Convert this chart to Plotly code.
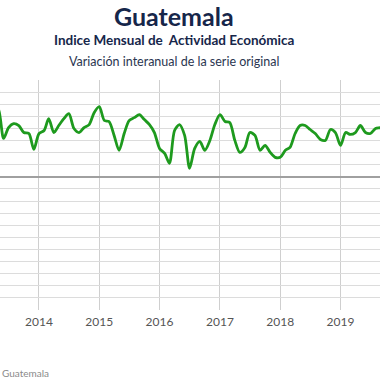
import plotly.graph_objects as go
import pandas as pd

# Monthly year-on-year variation (%), Apr 2013 .. Oct 2019
start_month = "2013-04-01"
values = [5.96, 5.55, 3.17, 4.07, 4.40, 4.24, 3.66, 3.58, 2.27,
          3.58, 3.83, 4.81, 3.66, 4.24, 4.81, 5.22, 3.99, 3.66, 4.07, 4.32, 5.30,
          5.80, 4.65, 4.57, 3.42, 2.19, 3.58, 4.65, 4.89, 5.14, 4.73, 4.32, 3.66,
          2.35, 1.94, 1.12, 3.83, 4.32, 3.42, 0.71, 2.35, 2.93, 2.19, 3.01, 4.32,
          5.14, 4.57, 4.48, 3.01, 2.02, 2.43, 3.66, 3.42, 2.19, 2.60, 2.02, 1.61,
          1.61, 2.19, 2.43, 3.58, 4.24, 4.24, 3.91, 3.58, 3.09, 3.01, 3.91, 3.66,
          2.60, 3.66, 3.50, 3.66, 4.24, 3.66, 3.58, 3.99, 4.07, 4.24]
dates = pd.date_range(start_month, periods=len(values), freq="MS")

year_ticks = ["2014-01-01", "2015-01-01", "2016-01-01", "2017-01-01", "2018-01-01", "2019-01-01"]
year_labels = ["2014", "2015", "2016", "2017", "2018", "2019"]

title = "Guatemala"
subtitle1 = "Indice Mensual de  Actividad Económica"
subtitle2 = "Variación interanual de la serie original"
legend_name = "Guatemala"

fig = go.Figure()
fig.add_trace(go.Scatter(
    x=dates, y=values, mode="lines", name=legend_name,
    line=dict(color="#1e9a1e", width=2.8, shape="spline", smoothing=0.8),
    showlegend=False,
))

H_TOP, H_BOT = 80, 310
def py(pix):
    return (H_BOT - pix) / (H_BOT - H_TOP)

fig.update_layout(
    width=380, height=380,
    margin=dict(l=0, r=0, t=H_TOP, b=380 - H_BOT),
    paper_bgcolor="white", plot_bgcolor="white",
    font=dict(family="Lato, 'Open Sans', sans-serif", color="#555"),
    xaxis=dict(
        range=["2013-05-10", "2019-08-28"],
        tickvals=year_ticks, ticktext=year_labels,
        showgrid=True, gridcolor="#cfcfcf", gridwidth=1,
        tickfont=dict(size=12, color="#555"),
        ticklabelstandoff=3,
        ticks="", showline=False, zeroline=False,
    ),
    yaxis=dict(
        range=[-11, 8], dtick=1, tick0=0,
        showgrid=True, gridcolor="#dcdcdc", gridwidth=1,
        zeroline=True, zerolinecolor="#a0a0a0", zerolinewidth=1.5,
        showticklabels=False, ticks="", showline=False,
    ),
    annotations=[
        dict(text=f"<b>{title}</b>", x=174 / 380, y=py(16), xref="paper", yref="paper",
             showarrow=False, xanchor="center", yanchor="middle",
             font=dict(size=25, color="#16264a", family="Lato")),
        dict(text=f"<b>{subtitle1}</b>", x=174 / 380, y=py(40), xref="paper", yref="paper",
             showarrow=False, xanchor="center", yanchor="middle",
             font=dict(size=13.5, color="#16264a", family="Lato")),
        dict(text=subtitle2, x=174 / 380, y=py(61), xref="paper", yref="paper",
             showarrow=False, xanchor="center", yanchor="middle",
             font=dict(size=12.5, color="#2a3550", family="Lato")),
        dict(text=legend_name, x=0, y=py(373), xref="paper", yref="paper",
             showarrow=False, xanchor="left", yanchor="middle",
             font=dict(size=10, color="#8a8a8a", family="Lato")),
    ],
)

fig.write_html("out.html", config={"displayModeBar": False},
               post_script="document.body.style.margin='0';document.body.style.padding='0';")
